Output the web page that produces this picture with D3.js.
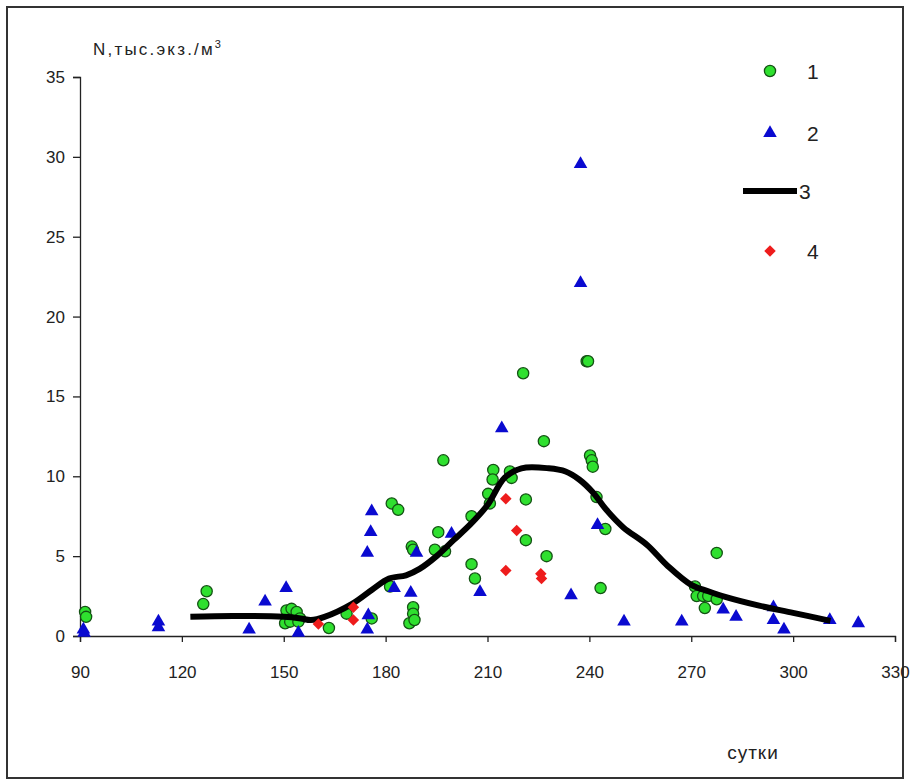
<!DOCTYPE html>
<html>
<head>
<meta charset="utf-8">
<script src="https://cdn.jsdelivr.net/npm/d3@7"></script>
<style>
  html, body { margin: 0; padding: 0; background: #fff; }
  svg { display: block; }
  text { font-family: "Liberation Sans", Arial, sans-serif; fill: #222; }
</style>
</head>
<body>
<svg id="chart" width="910" height="784"></svg>
<script>
// ---- data ----
const xTicks = [90, 120, 150, 180, 210, 240, 270, 300, 330];
const yTicks = [0, 5, 10, 15, 20, 25, 30, 35];
const legendLabels = ["1", "2", "3", "4"];
const yAxisTitle = "N,тыс.экз./м";
const xAxisTitle = "сутки";

// series 1: green circles [day, N]
const series1 = [
  [91.5,1.5],[91.8,1.2],
  [126.3,2.0],[127.3,2.8],
  [150.8,1.6],[152.3,1.7],[153.8,1.5],[154.8,1.1],[150.4,0.8],[151.9,0.9],[154.3,0.9],
  [163.3,0.5],[168.5,1.4],[175.9,1.1],
  [181.8,8.3],[183.7,7.9],[181.3,3.1],
  [187.7,5.6],[188.1,5.4],
  [188.1,1.8],[188.1,1.4],[187.0,0.8],[188.5,1.0],
  [195.5,6.5],[197.5,5.3],[194.5,5.4],
  [197.0,11.0],
  [205.3,7.5],[210.2,8.9],[210.7,8.3],
  [211.7,10.4],[211.5,9.8],[216.6,10.3],[217.1,9.9],
  [205.3,4.5],[206.3,3.6],
  [220.5,16.45],[221.3,8.55],[221.3,6.0],
  [226.6,12.2],[227.4,5.0],
  [239.2,17.2],[239.6,17.2],
  [240.2,11.3],[240.7,11.0],[241.0,10.6],
  [242.1,8.7],[244.7,6.7],[243.3,3.0],
  [277.5,5.2],
  [271.1,3.1],[271.6,2.5],[273.5,2.5],[275.0,2.5],[277.5,2.3],[274.0,1.75]
];

// series 2: blue triangles
const series2 = [
  [91.0,0.4],[91.2,0.2],
  [113.1,0.9],[113.1,0.55],
  [139.8,0.4],[144.5,2.15],[150.7,3.0],[154.3,0.2],
  [175.9,7.8],[175.6,6.5],[174.6,5.2],[174.9,1.3],[174.6,0.4],
  [182.5,3.0],[187.4,2.7],[189.1,5.2],
  [199.4,6.4],[207.8,2.75],[214.2,13.0],
  [234.6,2.55],[237.4,29.55],[237.4,22.1],[242.4,6.95],
  [250.2,0.9],[267.2,0.9],[279.4,1.65],[283.2,1.2],
  [294.2,1.8],[294.2,1.0],[297.3,0.4],[310.8,1.0],[319.2,0.8]
];

// series 3: black smoothed line
const series3 = [
  [122.5,1.2],[135,1.25],[150,1.2],[155,1.1],[158,1.0],[162,1.2],[170,2.0],[176,2.9],
  [181,3.6],[186,3.8],[190,4.2],[195,5.0],[200,6.0],[205,7.0],[210,8.2],
  [215,9.9],[220,10.5],[228,10.5],[233,10.3],[237,9.8],[241,9.0],[245,7.9],
  [250,6.8],[257,5.7],[263,4.4],[270,3.2],[275,2.8],[280,2.45],[290,1.9],
  [300,1.45],[311,0.95]
];

// series 4: red diamonds
const series4 = [
  [160.2,0.75],[170.5,1.8],[170.5,1.0],[215.4,8.6],[218.6,6.6],[215.4,4.1],[225.7,3.9],[225.9,3.6]
];

// ---- drawing ----
const svg = d3.select("#chart");
const W = 910, H = 784;
const plot = {left: 80, right: 895, top: 77, bottom: 636};

svg.append("rect").attr("x", 0).attr("y", 0).attr("width", W).attr("height", H).attr("fill", "#fff");
svg.append("rect").attr("x", 7).attr("y", 7).attr("width", 896).attr("height", 771)
  .attr("fill", "none").attr("stroke", "#333").attr("stroke-width", 2);

const x = d3.scaleLinear().domain([90, 330]).range([plot.left, plot.right]);
const y = d3.scaleLinear().domain([0, 35]).range([plot.bottom, plot.top]);

const xAxis = d3.axisBottom(x).tickValues(xTicks).tickSize(6).tickPadding(24).tickFormat(d3.format("d"));
const yAxis = d3.axisLeft(y).tickValues(yTicks).tickSize(7).tickPadding(8).tickFormat(d3.format("d"));

const gx = svg.append("g").attr("transform", `translate(0,${plot.bottom})`).call(xAxis);
const gy = svg.append("g").attr("transform", `translate(${plot.left},0)`).call(yAxis);
[gx, gy].forEach(g => {
  g.select(".domain").attr("stroke", "#222").attr("stroke-width", 1.3);
  g.selectAll(".tick line").attr("stroke", "#222").attr("stroke-width", 1.3);
  g.selectAll(".tick text").attr("font-size", 17).attr("fill", "#222")
    .style("font-family", '"Liberation Sans", Arial, sans-serif');
});
gx.selectAll(".tick text").attr("dy", "0");
gx.selectAll(".tick text").attr("y", 6 + 24 + 12);

// axis titles
const yt = svg.append("text").attr("x", 93).attr("y", 55).attr("font-size", 17).attr("letter-spacing", 2.2);
yt.append("tspan").text(yAxisTitle);
yt.append("tspan").attr("font-size", 11).attr("dy", -7).text("3");
svg.append("text").attr("x", 753).attr("y", 759).attr("text-anchor", "middle")
  .attr("font-size", 19).attr("letter-spacing", 1).text(xAxisTitle);

// markers
const circleFill = "#2fe02f", circleStroke = "#145214";
const triFill = "#0a0ad0";
const diaFill = "#ee1c1c";

svg.append("g").selectAll("circle").data(series1).join("circle")
  .attr("cx", d => x(d[0])).attr("cy", d => y(d[1])).attr("r", 5.6)
  .attr("fill", circleFill).attr("stroke", circleStroke).attr("stroke-width", 1.3);

const tri = d3.symbol().type(d3.symbolTriangle).size(80);
svg.append("g").selectAll("path").data(series2).join("path")
  .attr("d", tri).attr("transform", d => `translate(${x(d[0])},${y(d[1])})`)
  .attr("fill", triFill);

const line = d3.line().x(d => x(d[0])).y(d => y(d[1])).curve(d3.curveCatmullRom.alpha(0.5));
svg.append("path").datum(series3).attr("d", line)
  .attr("fill", "none").attr("stroke", "#000").attr("stroke-width", 6)
  .attr("stroke-linejoin", "round").attr("stroke-linecap", "butt");

const dia = d3.symbol().type(d3.symbolSquare).size(66);
svg.append("g").selectAll("path").data(series4).join("path")
  .attr("d", dia).attr("transform", d => `translate(${x(d[0])},${y(d[1])}) rotate(45)`)
  .attr("fill", diaFill);

// legend
const lg = svg.append("g");
const lx = 770, ly = [71, 133, 191, 251];
lg.append("circle").attr("cx", lx).attr("cy", ly[0]).attr("r", 5.6)
  .attr("fill", circleFill).attr("stroke", circleStroke).attr("stroke-width", 1.3);
lg.append("path").attr("d", tri).attr("transform", `translate(${lx},${ly[1]})`).attr("fill", triFill);
lg.append("line").attr("x1", 743).attr("x2", 797).attr("y1", ly[2]).attr("y2", ly[2])
  .attr("stroke", "#000").attr("stroke-width", 6);
lg.append("path").attr("d", dia).attr("transform", `translate(${lx},${ly[3]}) rotate(45)`).attr("fill", diaFill);
lg.selectAll("text").data(legendLabels).join("text")
  .attr("x", (d, i) => i === 2 ? 799 : 807).attr("y", (d, i) => ly[i])
  .attr("dy", "0.36em").attr("font-size", 21).text(d => d);
</script>
</body>
</html>
